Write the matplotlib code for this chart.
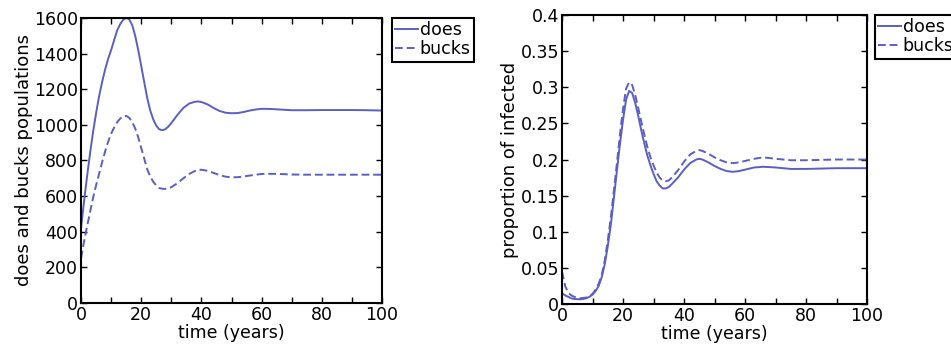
import matplotlib.pyplot as plt
from matplotlib.ticker import MultipleLocator

# population curves
t_pop = [0, 1, 2, 3, 4, 5, 6, 7, 8, 9, 10, 11, 12, 13, 14, 15, 16, 17, 18, 19, 20,
         21, 22, 23, 24, 25, 26, 27, 28, 29, 30, 32, 34, 36, 38, 39, 40, 42, 44, 46,
         48, 50, 52, 54, 56, 58, 60, 63, 66, 70, 75, 80, 85, 90, 95, 100]
does_pop = [420, 570, 710, 840, 960, 1065, 1160, 1240, 1310, 1370, 1420, 1475, 1530, 1565,
            1590, 1600, 1592, 1560, 1500, 1420, 1330, 1240, 1150, 1080, 1030, 995, 975, 970,
            975, 990, 1010, 1055, 1095, 1120, 1130, 1131, 1128, 1115, 1095, 1078, 1068, 1065,
            1066, 1072, 1080, 1086, 1090, 1089, 1086, 1082, 1082, 1083, 1083, 1083, 1082, 1080]
bucks_pop = [250, 345, 430, 510, 590, 660, 725, 790, 850, 905, 950, 985, 1015, 1035, 1048,
             1050, 1040, 1015, 980, 930, 870, 810, 750, 710, 680, 660, 645, 641, 640, 643,
             650, 672, 700, 725, 742, 747, 748, 742, 730, 718, 709, 705, 706, 710, 715, 720,
             724, 725, 724, 721, 720, 720, 720, 720, 720, 720]

# proportion infected
t_inf = [0, 1, 2, 3, 4, 5, 6, 7, 8, 9, 10, 11, 12, 13, 14, 15, 16, 17, 18, 19, 20,
         21, 22, 23, 24, 25, 26, 27, 28, 29, 30, 31, 32, 33, 34, 35, 36, 38, 40, 42,
         44, 45, 46, 48, 50, 52, 54, 56, 58, 60, 63, 66, 70, 75, 80, 90, 100]
does_inf = [0.015, 0.012, 0.010, 0.008, 0.007, 0.0068, 0.0065, 0.007, 0.008, 0.010, 0.013,
            0.018, 0.025, 0.037, 0.055, 0.080, 0.110, 0.147, 0.185, 0.222, 0.255, 0.283,
            0.295, 0.292, 0.278, 0.260, 0.240, 0.222, 0.205, 0.192, 0.180, 0.170, 0.164,
            0.160, 0.160, 0.162, 0.166, 0.175, 0.186, 0.195, 0.200, 0.201, 0.200, 0.196,
            0.191, 0.187, 0.184, 0.183, 0.184, 0.186, 0.189, 0.190, 0.189, 0.187, 0.187,
            0.188, 0.188]
bucks_inf = [0.045, 0.025, 0.016, 0.012, 0.010, 0.009, 0.008, 0.0085, 0.009, 0.011, 0.014,
             0.020, 0.028, 0.040, 0.060, 0.088, 0.120, 0.157, 0.195, 0.235, 0.270, 0.298,
             0.307, 0.303, 0.289, 0.271, 0.252, 0.234, 0.217, 0.203, 0.192, 0.182, 0.175,
             0.171, 0.170, 0.171, 0.175, 0.185, 0.197, 0.207, 0.212, 0.213, 0.212, 0.208,
             0.203, 0.199, 0.196, 0.195, 0.196, 0.198, 0.201, 0.203, 0.201, 0.199, 0.199,
             0.200, 0.200]

col = '#5a5fc0'
dash = (0, (4, 2))
plt.rcParams['font.family'] = 'DejaVu Sans'

fig = plt.figure(figsize=(9.51, 3.56), dpi=100)
ax1 = fig.add_axes([0.0852, 0.149, 0.3165, 0.8006])
ax2 = fig.add_axes([0.591, 0.146, 0.3207, 0.8118])

ax1.plot(t_pop, does_pop, color=col, lw=1.4, label='does')
ax1.plot(t_pop, bucks_pop, color=col, lw=1.4, ls=dash, label='bucks')
ax1.set_xlim(0, 100)
ax1.set_ylim(0, 1600)
ax1.yaxis.set_major_locator(MultipleLocator(200))
ax1.set_ylabel('does and bucks populations', fontsize=13, labelpad=1)

ax2.plot(t_inf, does_inf, color=col, lw=1.4, label='does')
ax2.plot(t_inf, bucks_inf, color=col, lw=1.4, ls=dash, label='bucks')
ax2.set_xlim(0, 100)
ax2.set_ylim(0, 0.4)
ax2.set_yticks([0, 0.05, 0.1, 0.15, 0.2, 0.25, 0.3, 0.35, 0.4])
ax2.set_yticklabels(['0', '0.05', '0.1', '0.15', '0.2', '0.25', '0.3', '0.35', '0.4'])
ax2.set_ylabel('proportion of infected', fontsize=13, labelpad=1)

for ax in (ax1, ax2):
    ax.xaxis.set_major_locator(MultipleLocator(20))
    ax.xaxis.set_minor_locator(MultipleLocator(10))
    ax.set_xlabel('time (years)', fontsize=12.5, labelpad=0)
    ax.tick_params(which='both', direction='in', top=True, right=True, labelsize=12.5, pad=2)
    ax.tick_params(which='both', length=4, width=1)
    for s in ax.spines.values():
        s.set_linewidth(1.5)

leg_kw = dict(loc='upper left', fontsize=12.5, handlelength=1.3, handletextpad=0.1,
              borderpad=0.2, labelspacing=0.05, borderaxespad=0, fancybox=False,
              framealpha=1, edgecolor='black')
l1 = ax1.legend(bbox_to_anchor=(392 / 951, 1 - 18 / 356), bbox_transform=fig.transFigure, **leg_kw)
l1.get_frame().set_linewidth(1.5)
l2 = ax2.legend(bbox_to_anchor=(875 / 951, 1 - 15 / 356), bbox_transform=fig.transFigure, **leg_kw)
l2.get_frame().set_linewidth(1.5)

fig.savefig('out.png', dpi=100)
